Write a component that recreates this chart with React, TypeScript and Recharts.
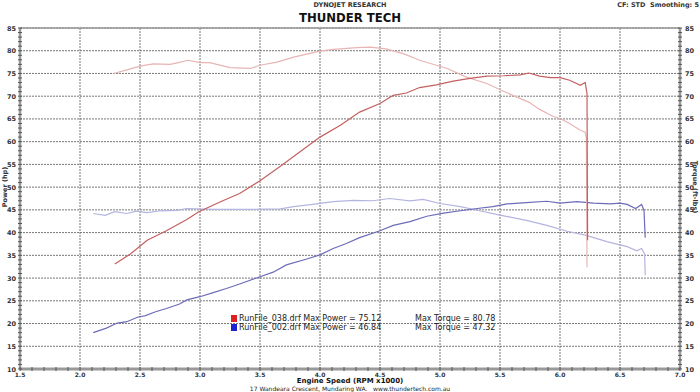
import React from "react";
import {
  CartesianGrid,
  Line,
  LineChart,
  ReferenceLine,
  XAxis,
  YAxis,
} from "recharts";

// RunFile_038 power (hp) vs engine speed (rpm x1000)
const P038_RPM = [2.29, 2.42, 2.56, 2.72, 2.89, 2.99, 3.19, 3.33, 3.5, 3.67, 4.0, 4.17, 4.33, 4.5, 4.61, 4.72, 4.83, 4.97, 5.11, 5.25, 5.39, 5.53, 5.67, 5.74, 5.83, 5.92, 6.0, 6.08, 6.17, 6.21, 6.225, 6.23];
const P038_HP = [33.1, 35.3, 38.3, 40.4, 42.9, 44.6, 47.0, 48.6, 51.4, 54.6, 61.0, 63.6, 66.5, 68.4, 70.2, 70.7, 71.9, 72.5, 73.3, 73.9, 74.4, 74.5, 74.7, 75.1, 74.4, 74.1, 74.1, 73.5, 72.4, 73.0, 70.6, 38.3];

// RunFile_038 torque (ft-lbs)
const T038_RPM = [2.28, 2.39, 2.5, 2.61, 2.75, 2.82, 2.9, 3.0, 3.08, 3.25, 3.42, 3.5, 3.64, 3.78, 4.0, 4.11, 4.31, 4.42, 4.55, 4.7, 4.83, 5.06, 5.22, 5.39, 5.51, 5.64, 5.74, 5.83, 5.94, 6.0, 6.08, 6.17, 6.21, 6.22, 6.225];
const T038_TQ = [75.0, 75.8, 76.6, 77.1, 77.0, 77.4, 77.9, 77.4, 77.4, 76.3, 76.1, 76.8, 77.5, 78.6, 79.9, 80.3, 80.7, 80.8, 80.4, 79.3, 77.9, 76.1, 74.2, 72.8, 71.3, 69.8, 68.7, 67.1, 65.6, 65.1, 64.0, 62.5, 62.1, 60.7, 32.4];

// RunFile_002 power (hp)
const P002_RPM = [2.11, 2.22, 2.31, 2.39, 2.49, 2.54, 2.63, 2.72, 2.83, 2.89, 3.0, 3.11, 3.22, 3.33, 3.5, 3.61, 3.72, 3.89, 4.0, 4.11, 4.22, 4.33, 4.5, 4.61, 4.75, 4.89, 5.03, 5.17, 5.31, 5.44, 5.56, 5.72, 5.89, 6.0, 6.14, 6.28, 6.42, 6.5, 6.56, 6.63, 6.68, 6.7, 6.71];
const P002_HP = [18.0, 19.0, 20.1, 20.4, 21.5, 21.7, 22.6, 23.3, 24.3, 25.2, 25.9, 26.8, 27.7, 28.7, 30.3, 31.3, 32.9, 34.2, 35.1, 36.5, 37.6, 38.9, 40.4, 41.6, 42.4, 43.6, 44.3, 44.8, 45.3, 45.7, 46.3, 46.6, 46.9, 46.5, 46.8, 46.5, 46.3, 46.5, 46.2, 45.3, 46.2, 44.9, 38.9];

// RunFile_002 torque (ft-lbs)
const T002_RPM = [2.11, 2.21, 2.29, 2.39, 2.47, 2.56, 2.67, 2.81, 2.89, 3.11, 3.44, 3.67, 3.78, 3.94, 4.11, 4.28, 4.44, 4.58, 4.75, 4.86, 5.0, 5.17, 5.33, 5.51, 5.72, 5.89, 6.06, 6.22, 6.39, 6.56, 6.64, 6.68, 6.705, 6.71];
const T002_TQ = [44.2, 43.8, 44.6, 44.2, 44.7, 44.4, 44.8, 44.9, 45.3, 45.1, 45.1, 45.2, 45.7, 46.2, 46.8, 47.1, 47.0, 47.5, 47.0, 47.3, 46.4, 45.7, 44.8, 43.8, 42.7, 41.6, 40.3, 39.4, 38.0, 36.9, 36.0, 36.5, 35.3, 30.6];

const X_MAJOR = [1.5, 2.0, 2.5, 3.0, 3.5, 4.0, 4.5, 5.0, 5.5, 6.0, 6.5, 7.0];
const Y_MAJOR = [10, 15, 20, 25, 30, 35, 40, 45, 50, 55, 60, 65, 70, 75, 80, 85];

const RUNS = [
  { name: "RunFile_038.drf", maxPower: "75.12", maxTorque: "80.78", icon: "#e02020" },
  { name: "RunFile_002.drf", maxPower: "46.84", maxTorque: "47.32", icon: "#2020d0" },
];

const toSeries = (xs: number[], ys: number[]) =>
  xs.map((rpm, i) => ({ rpm, v: ys[i] }));

const p038 = toSeries(P038_RPM, P038_HP);
const t038 = toSeries(T038_RPM, T038_TQ);
const p002 = toSeries(P002_RPM, P002_HP);
const t002 = toSeries(T002_RPM, T002_TQ);

// minor tick positions (every 0.1 rpm x1000, every 1 unit)
const xMinor: number[] = [];
for (let i = 15; i <= 70; i++) xMinor.push(i / 10);
const yMinor: number[] = [];
for (let i = 10; i <= 85; i++) yMinor.push(i);

const FONT = "'DejaVu Sans', Verdana, sans-serif";
const LABEL = "#333";

const isMajorX = (v: number) => X_MAJOR.some((m) => Math.abs(m - v) < 1e-6);

const XTick = (props: any) => {
  const { x, y, payload } = props;
  const v = payload.value as number;
  return (
    <g>
      <line x1={x} x2={x} y1={y - 2} y2={y + 2} stroke="#555" strokeWidth={1} />
      {isMajorX(v) && (
        <text x={x} y={y + 8} textAnchor="middle" fontSize={6} fontWeight="bold" fontFamily={FONT} fill={LABEL}>
          {v.toFixed(1)}
        </text>
      )}
    </g>
  );
};

const LeftTick = (props: any) => {
  const { x, y, payload } = props;
  const v = payload.value as number;
  return (
    <g>
      <line x1={x - 2} x2={x + 2} y1={y} y2={y} stroke="#555" strokeWidth={1} />
      {v % 5 === 0 && (
        <text x={x - 4} y={y + 2.5} textAnchor="end" fontSize={6.5} fontWeight="bold" fontFamily={FONT} fill={LABEL}>
          {v}
        </text>
      )}
    </g>
  );
};

const RightTick = (props: any) => {
  const { x, y, payload } = props;
  const v = payload.value as number;
  return (
    <g>
      <line x1={x - 2} x2={x + 2} y1={y} y2={y} stroke="#555" strokeWidth={1} />
      {v % 5 === 0 && (
        <text x={x + 5} y={y + 2.5} textAnchor="start" fontSize={6.5} fontWeight="bold" fontFamily={FONT} fill={LABEL}>
          {v}
        </text>
      )}
    </g>
  );
};

const small: React.CSSProperties = {
  position: "absolute",
  fontFamily: FONT,
  fontWeight: "bold",
  color: LABEL,
  whiteSpace: "nowrap",
  lineHeight: 1,
};

export default function App() {
  return (
    <div style={{ position: "absolute", left: 0, top: 0, width: 700, height: 392, background: "#fff" }}>
      <LineChart width={700} height={392} margin={{ top: 28, right: 2, bottom: 5, left: 2 }}>
        <CartesianGrid
          yAxisId="hp"
          horizontalValues={Y_MAJOR}
          verticalValues={X_MAJOR}
          stroke="#777"
          strokeDasharray="2 1"
        />
        <XAxis
          type="number"
          dataKey="rpm"
          domain={[1.5, 7.0]}
          ticks={xMinor}
          interval={0}
          height={18}
          tickSize={0}
          tickMargin={0}
          tickLine={false}
          tick={<XTick />}
          axisLine={{ stroke: "#999", strokeWidth: 3 }}
          allowDataOverflow
        />
        <YAxis
          yAxisId="hp"
          type="number"
          domain={[10, 85]}
          ticks={yMinor}
          interval={0}
          width={18}
          tickSize={0}
          tickMargin={0}
          tickLine={false}
          tick={<LeftTick />}
          axisLine={{ stroke: "#999", strokeWidth: 2.5 }}
          allowDataOverflow
        />
        <YAxis
          yAxisId="tq"
          orientation="right"
          type="number"
          domain={[10, 85]}
          ticks={yMinor}
          interval={0}
          width={18}
          tickSize={0}
          tickMargin={0}
          tickLine={false}
          tick={<RightTick />}
          axisLine={{ stroke: "#999", strokeWidth: 2.5 }}
          allowDataOverflow
        />
        <ReferenceLine yAxisId="hp" y={85} stroke="#999" strokeWidth={1.5} />
        <Line yAxisId="hp" data={t002} dataKey="v" type="linear" stroke="#b4b4e0" strokeWidth={1.2} dot={false} isAnimationActive={false} />
        <Line yAxisId="hp" data={p002} dataKey="v" type="linear" stroke="#6c6cb8" strokeWidth={1.2} dot={false} isAnimationActive={false} />
        <Line yAxisId="hp" data={t038} dataKey="v" type="linear" stroke="#e8b4b4" strokeWidth={1.2} dot={false} isAnimationActive={false} />
        <Line yAxisId="hp" data={p038} dataKey="v" type="linear" stroke="#c46060" strokeWidth={1.2} dot={false} isAnimationActive={false} />
      </LineChart>

      <div style={{ ...small, left: 0, width: 700, top: 2, textAlign: "center", fontSize: 6.5 }}>
        DYNOJET RESEARCH
      </div>
      <div style={{ ...small, right: 1, top: 2, fontSize: 6.5 }}>CF: STD&nbsp; Smoothing: 5</div>
      <div
        style={{
          ...small,
          left: 0,
          width: 700,
          top: 11,
          textAlign: "center",
          fontSize: 13,
          color: "#111",
          fontFamily: "'DejaVu Sans Condensed', 'DejaVu Sans', sans-serif",
        }}
      >
        THUNDER TECH
      </div>
      <div
        style={{
          ...small,
          left: 5,
          top: 187,
          fontSize: 6.5,
          transform: "translate(-50%, -50%) rotate(-90deg)",
        }}
      >
        Power (hp)
      </div>
      <div
        style={{
          ...small,
          left: 695,
          top: 187,
          fontSize: 6.5,
          transform: "translate(-50%, -50%) rotate(90deg)",
        }}
      >
        Torque (ft-lbs)
      </div>
      <div style={{ ...small, left: 0, width: 700, top: 378, textAlign: "center", fontSize: 7, color: "#111" }}>
        Engine Speed (RPM x1000)
      </div>
      <div style={{ ...small, left: 0, width: 700, top: 386, textAlign: "center", fontSize: 6, fontWeight: "normal", color: "#222" }}>
        17 Wandeara Crescent, Mundaring WA.&nbsp;&nbsp; www.thundertech.com.au
      </div>

      <div style={{ position: "absolute", left: 231, top: 314, fontFamily: FONT, fontSize: 8, lineHeight: "9px", color: "#222" }}>
        {RUNS.map((r) => (
          <div key={r.name} style={{ display: "flex", alignItems: "center", whiteSpace: "pre" }}>
            <span style={{ display: "inline-block", width: 6, height: 7, background: r.icon, marginRight: 2 }} />
            <span style={{ display: "inline-block", width: 176 }}>{`${r.name} Max Power = ${r.maxPower}`}</span>
            <span>{`Max Torque = ${r.maxTorque}`}</span>
          </div>
        ))}
      </div>
    </div>
  );
}
